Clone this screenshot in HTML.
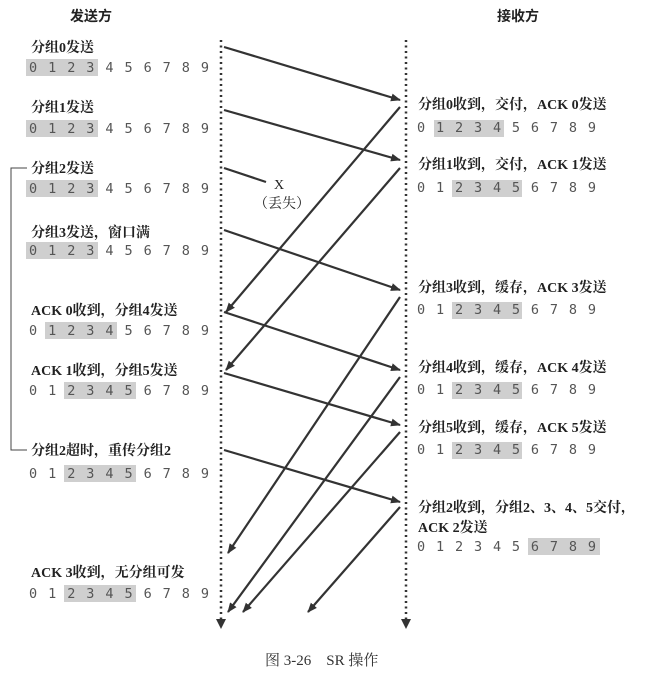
<!DOCTYPE html>
<html><head><meta charset="utf-8"><style>
html,body{margin:0;padding:0;background:#fff;}
svg{display:block;}
.t{font-family:"Liberation Serif","Noto Serif CJK SC",serif;font-size:14px;fill:#222;font-weight:bold;}
.d{font-family:"DejaVu Sans Mono","Liberation Mono",monospace;font-size:13.5px;fill:#555;}
.h{font-family:"Liberation Sans","Noto Sans CJK SC",sans-serif;font-size:14px;fill:#222;font-weight:bold;}
.c{font-family:"Liberation Serif","Noto Serif CJK SC",serif;font-size:15px;fill:#333;}
</style></head><body>
<svg width="653" height="678" viewBox="0 0 653 678" xmlns="http://www.w3.org/2000/svg">
<defs>
<marker id="a" markerWidth="10" markerHeight="10" refX="9" refY="5" orient="auto" markerUnits="userSpaceOnUse">
<path d="M0,1 L10,5 L0,9 Z" fill="#333"/></marker>
</defs>
<text class="h" x="70" y="21">发送方</text>
<text class="h" x="497" y="21">接收方</text>

<!-- dotted lifelines -->
<line x1="221" y1="40" x2="221" y2="620" stroke="#333" stroke-width="2.5" stroke-dasharray="2,3.5"/>
<line x1="406" y1="40" x2="406" y2="620" stroke="#333" stroke-width="2.5" stroke-dasharray="2,3.5"/>
<path d="M216,619 L226,619 L221,629 Z" fill="#333"/>
<path d="M401,619 L411,619 L406,629 Z" fill="#333"/>

<!-- bracket -->
<path d="M27,168 L11,168 L11,450 L27,450" fill="none" stroke="#444" stroke-width="1"/>

<g stroke="#333" stroke-width="2.2" fill="none" marker-end="url(#a)">
<line x1="224" y1="47" x2="400" y2="100"/>
<line x1="224" y1="110" x2="400" y2="160"/>
<line x1="224" y1="230" x2="400" y2="290"/>
<line x1="224" y1="312" x2="400" y2="370"/>
<line x1="224" y1="373" x2="400" y2="425"/>
<line x1="224" y1="450" x2="400" y2="502"/>
<line x1="400" y1="107" x2="226" y2="312"/>
<line x1="400" y1="168" x2="226" y2="370"/>
<line x1="400" y1="297" x2="228" y2="553"/>
<line x1="400" y1="377" x2="228" y2="612"/>
<line x1="400" y1="432" x2="243" y2="612"/>
<line x1="400" y1="507" x2="308" y2="612"/>
</g>
<line x1="224" y1="168" x2="266" y2="182" stroke="#333" stroke-width="2.2"/>
<text class="t" x="274" y="189" style="font-weight:normal">X</text>
<text class="t" x="254" y="208" style="font-weight:normal">（丢失）</text>

<!-- left labels -->
<g class="t">
<text x="31" y="52">分组0发送</text>
<text x="31" y="112">分组1发送</text>
<text x="31" y="173">分组2发送</text>
<text x="31" y="237">分组3发送，窗口满</text>
<text x="31" y="315">ACK 0收到，分组4发送</text>
<text x="31" y="375">ACK 1收到，分组5发送</text>
<text x="31" y="455">分组2超时，重传分组2</text>
<text x="31" y="577">ACK 3收到，无分组可发</text>
</g>
<!-- left highlights -->
<g fill="#cfcfcf">
<rect x="26" y="59" width="72" height="17"/>
<rect x="26" y="120" width="72" height="17"/>
<rect x="26" y="180" width="72" height="17"/>
<rect x="26" y="242" width="72" height="17"/>
<rect x="45" y="322" width="72" height="17"/>
<rect x="64" y="382" width="72" height="17"/>
<rect x="64" y="465" width="72" height="17"/>
<rect x="64" y="585" width="72" height="17"/>
</g>
<g class="d">
<text x="29" y="72" xml:space="preserve" textLength="180">0 1 2 3 4 5 6 7 8 9</text>
<text x="29" y="133" textLength="180">0 1 2 3 4 5 6 7 8 9</text>
<text x="29" y="193" textLength="180">0 1 2 3 4 5 6 7 8 9</text>
<text x="29" y="255" textLength="180">0 1 2 3 4 5 6 7 8 9</text>
<text x="29" y="335" textLength="180">0 1 2 3 4 5 6 7 8 9</text>
<text x="29" y="395" textLength="180">0 1 2 3 4 5 6 7 8 9</text>
<text x="29" y="478" textLength="180">0 1 2 3 4 5 6 7 8 9</text>
<text x="29" y="598" textLength="180">0 1 2 3 4 5 6 7 8 9</text>
</g>

<!-- right labels -->
<g class="t">
<text x="418" y="109">分组0收到，交付，ACK 0发送</text>
<text x="418" y="169">分组1收到，交付，ACK 1发送</text>
<text x="418" y="292">分组3收到，缓存，ACK 3发送</text>
<text x="418" y="372">分组4收到，缓存，ACK 4发送</text>
<text x="418" y="432">分组5收到，缓存，ACK 5发送</text>
<text x="418" y="512">分组2收到，分组2、3、4、5交付，</text>
<text x="418" y="532">ACK 2发送</text>
</g>
<g fill="#cfcfcf">
<rect x="434" y="120" width="70" height="17"/>
<rect x="452" y="180" width="70" height="17"/>
<rect x="452" y="302" width="70" height="17"/>
<rect x="452" y="382" width="70" height="17"/>
<rect x="452" y="442" width="70" height="17"/>
<rect x="528" y="538" width="72" height="17"/>
</g>
<g class="d">
<text x="417" y="132" textLength="179">0 1 2 3 4 5 6 7 8 9</text>
<text x="417" y="192" textLength="179">0 1 2 3 4 5 6 7 8 9</text>
<text x="417" y="314" textLength="179">0 1 2 3 4 5 6 7 8 9</text>
<text x="417" y="394" textLength="179">0 1 2 3 4 5 6 7 8 9</text>
<text x="417" y="454" textLength="179">0 1 2 3 4 5 6 7 8 9</text>
<text x="417" y="551" textLength="179">0 1 2 3 4 5 6 7 8 9</text>
</g>

<text class="c" x="265" y="665">图 3-26　SR 操作</text>
</svg>
</body></html>
